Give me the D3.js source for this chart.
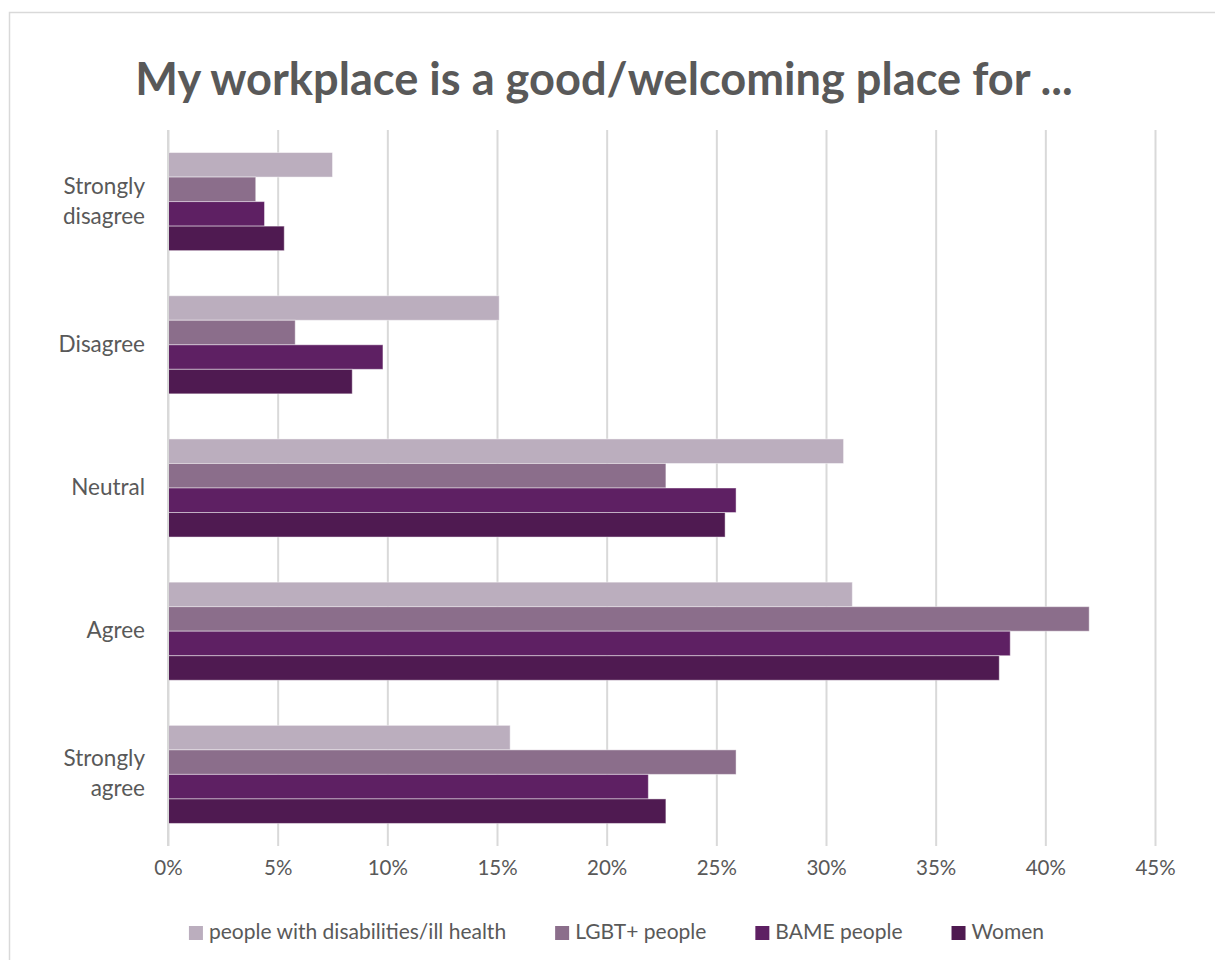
<!DOCTYPE html>
<html>
<head>
<meta charset="utf-8">
<script src="https://cdn.jsdelivr.net/npm/d3@7"></script>
<style>
  html, body { margin: 0; padding: 0; background: #fff; }
  svg { display: block; font-family: Lato, "Open Sans", sans-serif; }
</style>
</head>
<body>
<svg id="chart" width="1215" height="960"></svg>
<script>
// Survey responses, share of respondents per answer
const categories = ["Strongly disagree", "Disagree", "Neutral", "Agree", "Strongly agree"];
const seriesNames = ["people with disabilities/ill health", "LGBT+ people", "BAME people", "Women"];
const disabilities = [0.075, 0.151, 0.308, 0.312, 0.156];
const lgbt = [0.040, 0.058, 0.227, 0.420, 0.259];
const bame = [0.044, 0.098, 0.259, 0.384, 0.219];
const women = [0.053, 0.084, 0.254, 0.379, 0.227];
const tickValues = [0, 0.05, 0.10, 0.15, 0.20, 0.25, 0.30, 0.35, 0.40, 0.45];
const colors = ["#BBAEBE", "#8B6E8B", "#5E2063", "#4F1A51"];

const seriesValues = [disabilities, lgbt, bame, women];
const rows = categories.map((c, i) => ({
  category: c,
  values: seriesNames.map((s, j) => ({ series: s, value: seriesValues[j][i] }))
}));

const svg = d3.select("#chart");
const W = 1215, H = 960;
const margin = { left: 168, top: 130 };
const plotRight = 1155;
const plotBottom = 846;

// chart area frame
svg.append("rect")
  .attr("x", 9.5).attr("y", 12.5)
  .attr("width", W + 20).attr("height", H + 20)
  .attr("fill", "#fff").attr("stroke", "#d9d9d9").attr("stroke-width", 1.5);

const x = d3.scaleLinear().domain([0, 0.45]).range([margin.left, plotRight]);
const y0 = d3.scaleBand().domain(categories).range([margin.top, plotBottom]).paddingInner(0.315).paddingOuter(0.1575);
const y1 = d3.scaleBand().domain(seriesNames).range([0, y0.bandwidth()]);
const color = d3.scaleOrdinal().domain(seriesNames).range(colors);

// title
const title = svg.append("text")
  .attr("x", 604).attr("y", 95)
  .attr("text-anchor", "middle")
  .attr("fill", "#595959")
  .attr("font-weight", "bold")
  .attr("font-size", 44)
  .text("My workplace is a good/welcoming place for ...");
const tw = title.node().getComputedTextLength();
title.attr("font-size", 44 * 938 / tw);

// vertical gridlines and percentage ticks
const xAxis = d3.axisBottom(x)
  .tickValues(tickValues)
  .tickFormat(d3.format(".0%"))
  .tickSize(-(plotBottom - margin.top))
  .tickPadding(14);
const gx = svg.append("g")
  .attr("transform", `translate(0,${plotBottom})`)
  .call(xAxis);
gx.select(".domain").remove();
gx.selectAll(".tick line").attr("stroke", "#d9d9d9").attr("stroke-width", 2);
gx.selectAll(".tick text")
  .attr("fill", "#595959")
  .attr("font-size", 20.5)
  .attr("font-family", "Lato, sans-serif");

// bars
const groups = svg.append("g").selectAll("g")
  .data(rows).join("g")
  .attr("transform", d => `translate(0,${y0(d.category)})`);
groups.selectAll("rect")
  .data(d => d.values).join("rect")
  .attr("x", x(0))
  .attr("y", d => y1(d.series))
  .attr("width", d => x(d.value) - x(0))
  .attr("height", y1.bandwidth())
  .attr("fill", d => color(d.series))
  .attr("stroke", "rgba(255,255,255,0.45)")
  .attr("stroke-width", 1);

// category axis line
svg.append("line")
  .attr("x1", x(0)).attr("x2", x(0))
  .attr("y1", margin.top).attr("y2", plotBottom)
  .attr("stroke", "#d9d9d9").attr("stroke-width", 2);

// category labels (wrapped for two-word answers)
const catLabels = svg.append("g").selectAll("text")
  .data(categories).join("text")
  .attr("x", 145)
  .attr("y", d => y0(d) + y0.bandwidth() / 2)
  .attr("text-anchor", "end")
  .attr("fill", "#595959")
  .attr("font-size", 22.5);
catLabels.each(function (d) {
  const words = d.split(" ");
  const el = d3.select(this);
  const lh = 30;
  const start = -(words.length - 1) * lh / 2;
  words.forEach((w, i) => {
    el.append("tspan")
      .attr("x", 145)
      .attr("dy", i === 0 ? start + 7 : lh)
      .text(w);
  });
});

// legend
const legend = svg.append("g");
const items = legend.selectAll("g").data(seriesNames).join("g");
items.append("rect")
  .attr("width", 14).attr("height", 14)
  .attr("y", -13)
  .attr("fill", d => color(d));
items.append("text")
  .attr("x", 20)
  .attr("fill", "#595959")
  .attr("font-size", 21)
  .text(d => d);
const widths = [];
items.each(function () { widths.push(this.getBBox().width); });
const gap = 49;
const total = d3.sum(widths) + gap * (widths.length - 1);
let cx = 616.5 - total / 2;
items.attr("transform", (d, i) => {
  const t = `translate(${cx},939)`;
  cx += widths[i] + gap;
  return t;
});
</script>
</body>
</html>
